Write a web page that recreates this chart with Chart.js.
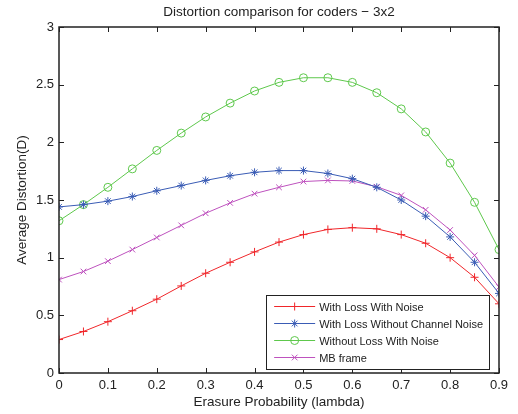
<!DOCTYPE html>
<html>
<head>
<meta charset="utf-8">
<script src="https://cdn.jsdelivr.net/npm/chart.js"></script>
<style>
    body { margin: 0; background: #fff; }
    canvas { display: block; }
</style>
</head>
<body>
<canvas id="distortionChart" width="518" height="414"></canvas>
<script>
// erasure probability (lambda)
const xValues = [0, 0.05, 0.1, 0.15, 0.2, 0.25, 0.3, 0.35, 0.4, 0.45, 0.5, 0.55, 0.6, 0.65, 0.7, 0.75, 0.8, 0.85, 0.9];

const lossWithNoise = [0.29, 0.36, 0.445, 0.54, 0.64, 0.755, 0.865, 0.96, 1.05, 1.135, 1.20, 1.245, 1.26, 1.25, 1.20, 1.125, 1.00, 0.83, 0.60];
const lossWithoutChannelNoise = [1.44, 1.46, 1.49, 1.53, 1.58, 1.625, 1.67, 1.71, 1.74, 1.755, 1.755, 1.73, 1.685, 1.61, 1.50, 1.36, 1.18, 0.96, 0.69];
const noLossWithNoise = [1.32, 1.46, 1.61, 1.77, 1.93, 2.08, 2.22, 2.34, 2.445, 2.52, 2.56, 2.56, 2.52, 2.43, 2.29, 2.09, 1.82, 1.48, 1.07];
const mbFrame = [0.81, 0.88, 0.97, 1.07, 1.175, 1.28, 1.385, 1.475, 1.555, 1.61, 1.66, 1.67, 1.665, 1.615, 1.54, 1.415, 1.24, 1.02, 0.745];

const seriesLabels = ['With Loss With Noise', 'With Loss Without Channel Noise', 'Without Loss With Noise', 'MB frame'];

const xTicks = [0, 0.1, 0.2, 0.3, 0.4, 0.5, 0.6, 0.7, 0.8, 0.9];
const yTicks = [0, 0.5, 1, 1.5, 2, 2.5, 3];

function toPoints(ys) {
    return ys.map(function (y, i) { return { x: xValues[i], y: y }; });
}

function makeSet(label, ys, color, style) {
    return {
        label: label,
        data: toPoints(ys),
        borderColor: color,
        backgroundColor: 'rgba(0,0,0,0)',
        borderWidth: 1,
        pointStyle: style,
        pointRadius: 4,
        pointBorderColor: color,
        pointBackgroundColor: 'rgba(0,0,0,0)',
        pointBorderWidth: 1,
        tension: 0
    };
}

// matlab style box + inward tick marks
const boxPlugin = {
    id: 'box',
    afterDraw: function (chart) {
        const ctx = chart.ctx;
        const a = chart.chartArea;
        const xs = chart.scales.x, ys = chart.scales.y;
        ctx.save();
        ctx.strokeStyle = '#222';
        ctx.lineWidth = 1;
        ctx.beginPath();
        xTicks.forEach(function (v) {
            const px = Math.round(xs.getPixelForValue(v)) + 0.5;
            ctx.moveTo(px, a.bottom); ctx.lineTo(px, a.bottom - 5);
            ctx.moveTo(px, a.top); ctx.lineTo(px, a.top + 5);
        });
        yTicks.forEach(function (v) {
            const py = Math.round(ys.getPixelForValue(v)) + 0.5;
            ctx.moveTo(a.left, py); ctx.lineTo(a.left + 5, py);
            ctx.moveTo(a.right, py); ctx.lineTo(a.right - 5, py);
        });
        ctx.stroke();
        ctx.lineWidth = 1.5;
        ctx.strokeRect(a.left, a.top, a.right - a.left, a.bottom - a.top);
        ctx.restore();
    }
};

// legend inside the axes, lower right
const insideLegend = {
    id: 'insideLegend',
    afterDraw: function (chart) {
        const ctx = chart.ctx;
        const a = chart.chartArea;
        const sets = chart.data.datasets;
        ctx.save();
        ctx.font = '11px "Liberation Sans", Arial, sans-serif';
        let maxW = 0;
        sets.forEach(function (d) { maxW = Math.max(maxW, ctx.measureText(d.label).width); });
        const rowH = 17;
        const w = 53 + maxW + 6;
        const h = sets.length * rowH + 6;
        const x0 = a.right - 10 - w;
        const y0 = a.bottom - 4 - h;
        ctx.fillStyle = '#fff';
        ctx.fillRect(x0, y0, w, h);
        ctx.strokeStyle = '#222';
        ctx.lineWidth = 1;
        ctx.strokeRect(Math.round(x0) + 0.5, Math.round(y0) + 0.5, Math.round(w), Math.round(h));
        sets.forEach(function (d, i) {
            const cy = y0 + 3 + rowH * i + rowH / 2;
            ctx.strokeStyle = d.borderColor;
            ctx.lineWidth = 1;
            ctx.beginPath();
            ctx.moveTo(x0 + 8, cy);
            ctx.lineTo(x0 + 49, cy);
            ctx.stroke();
            ctx.fillStyle = 'rgba(0,0,0,0)';
            Chart.helpers.drawPoint(ctx, {
                pointStyle: d.pointStyle, radius: 4, borderWidth: 1, rotation: 0
            }, x0 + 28.5, cy);
            ctx.fillStyle = '#222';
            ctx.textBaseline = 'middle';
            ctx.fillText(d.label, x0 + 53, cy + 1);
        });
        ctx.restore();
    }
};

const fontFamily = '"Liberation Sans", Arial, sans-serif';

new Chart(document.getElementById('distortionChart'), {
    type: 'line',
    data: {
        datasets: [
            makeSet(seriesLabels[0], lossWithNoise, '#f0262a', 'cross'),
            makeSet(seriesLabels[1], lossWithoutChannelNoise, '#3a5cb5', 'star'),
            makeSet(seriesLabels[2], noLossWithNoise, '#5ec84c', 'circle'),
            makeSet(seriesLabels[3], mbFrame, '#be52be', 'crossRot')
        ]
    },
    options: {
        responsive: false,
        animation: false,
        layout: { padding: { left: 0, right: 19, top: 0, bottom: 0 } },
        plugins: {
            legend: { display: false },
            tooltip: { enabled: false },
            title: {
                display: true,
                fullSize: false,
                text: 'Distortion comparison for coders \u2212 3x2',
                color: '#222',
                font: { family: fontFamily, size: 13.5, weight: 'normal' },
                padding: { top: 4.5, bottom: 6.3 }
            }
        },
        scales: {
            x: {
                type: 'linear',
                min: 0,
                max: 0.9,
                afterBuildTicks: function (s) { s.ticks = xTicks.map(function (v) { return { value: v }; }); },
                afterFit: function (s) { s.height = 41; },
                grid: { display: false, drawTicks: false },
                border: { display: false },
                ticks: {
                    color: '#222',
                    padding: 5,
                    maxRotation: 0,
                    font: { family: fontFamily, size: 13 },
                    callback: function (v) { return String(Math.round(v * 10) / 10); }
                },
                title: {
                    display: true,
                    text: 'Erasure Probability (lambda)',
                    color: '#222',
                    padding: { top: 0, bottom: 4 },
                    font: { family: fontFamily, size: 13.5 }
                }
            },
            y: {
                min: 0,
                max: 3,
                afterBuildTicks: function (s) { s.ticks = yTicks.map(function (v) { return { value: v }; }); },
                afterFit: function (s) { s.width = 59; },
                grid: { display: false, drawTicks: false },
                border: { display: false },
                ticks: {
                    color: '#222',
                    padding: 5,
                    font: { family: fontFamily, size: 13 },
                    callback: function (v) { return String(v); }
                },
                title: {
                    display: true,
                    text: 'Average Distortion(D)',
                    color: '#222',
                    padding: { top: 14, bottom: 0 },
                    font: { family: fontFamily, size: 13.5 }
                }
            }
        }
    },
    plugins: [boxPlugin, insideLegend]
});
</script>
</body>
</html>
